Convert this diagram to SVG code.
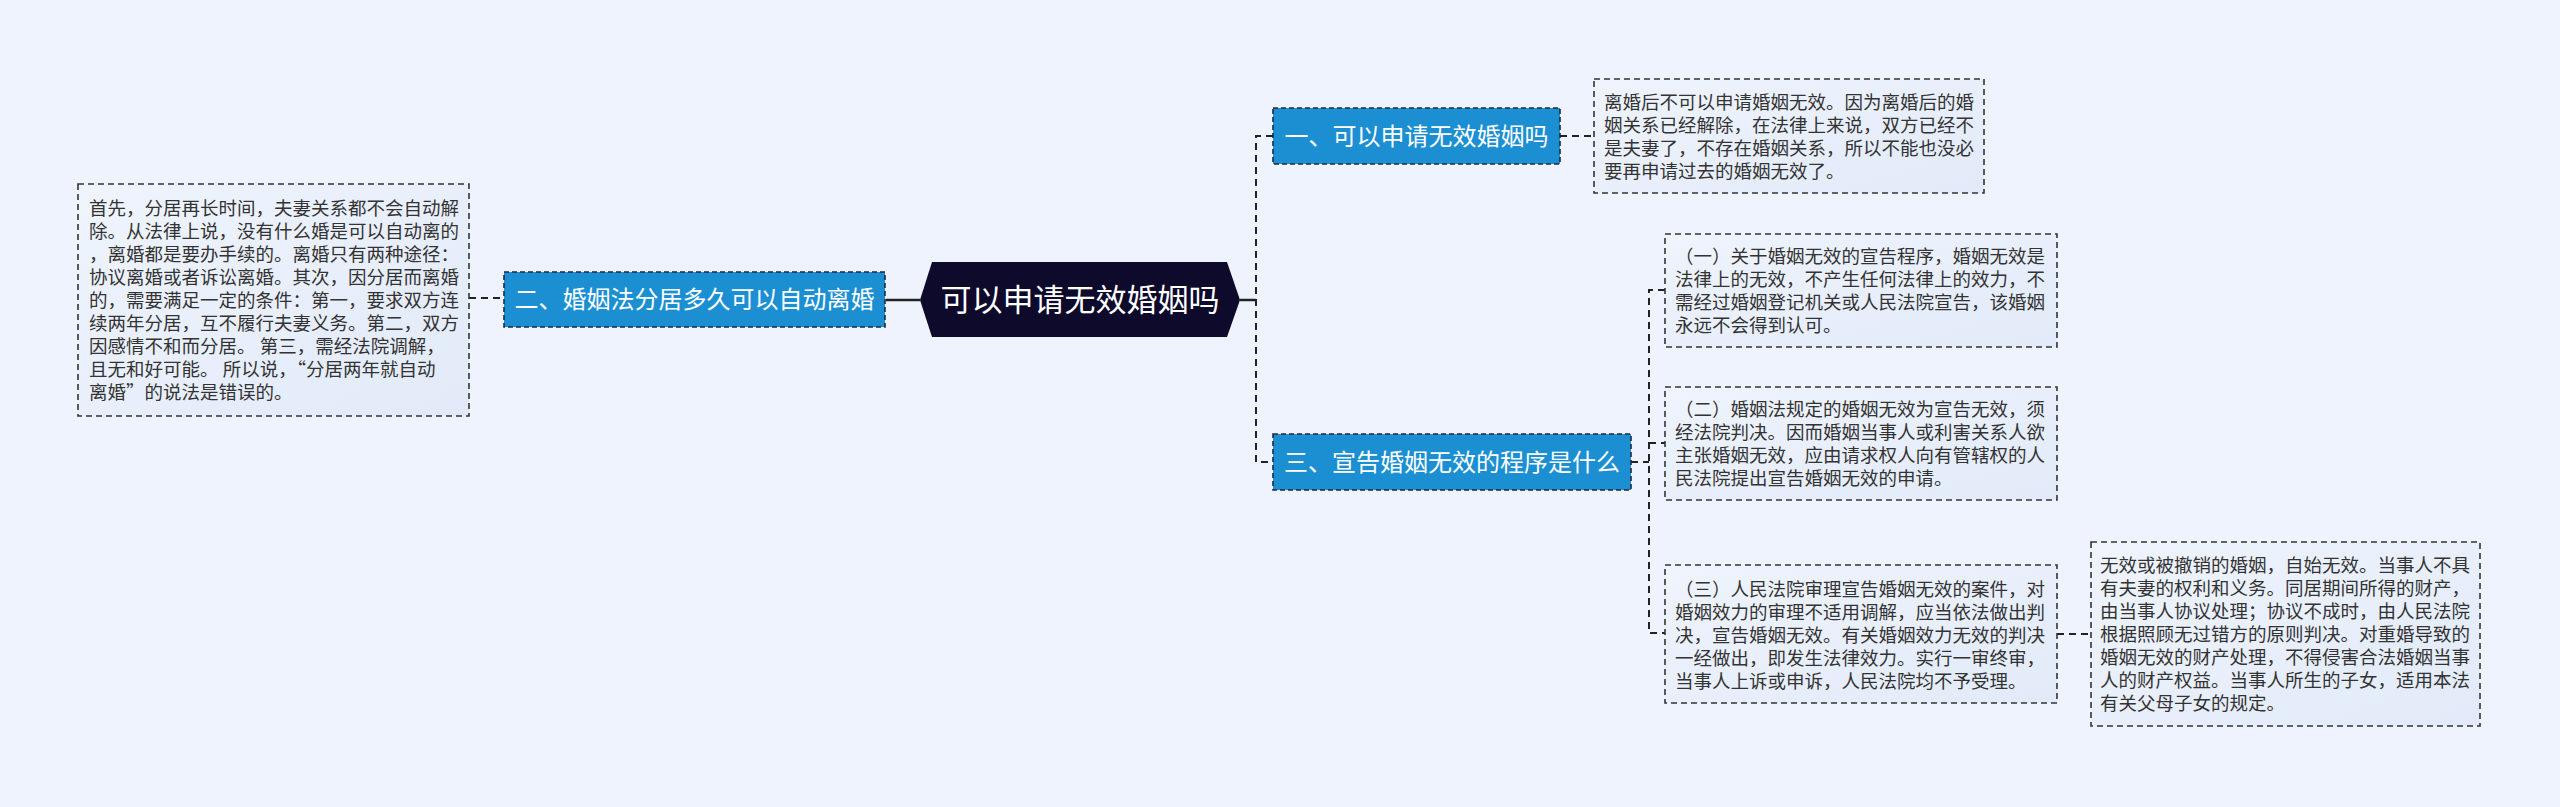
<svg xmlns="http://www.w3.org/2000/svg" width="2560" height="807" viewBox="0 0 2560 807">
<defs>
<linearGradient id="boxg" x1="0" y1="0" x2="1" y2="1">
<stop offset="0" stop-color="#eff4fd"/>
<stop offset="1" stop-color="#e2eaf9"/>
</linearGradient>
<style>
.tb{fill:url(#boxg);stroke:#333;stroke-width:1.6;stroke-dasharray:6 4}
.nd{fill:#1b8fd2;stroke:#1c2a44;stroke-width:1.6;stroke-dasharray:5 3}
.tt{font-family:"Noto Sans CJK SC","Liberation Sans",sans-serif;font-size:18.5px;fill:#333}
.nt{font-family:"Noto Sans CJK SC","Liberation Sans",sans-serif;font-size:24px;fill:#fff;text-anchor:middle}
.ct{font-family:"Noto Sans CJK SC","Liberation Sans",sans-serif;font-size:31px;fill:#fff;text-anchor:middle}
.dc{fill:none;stroke:#222;stroke-width:2;stroke-dasharray:7 5}
.sc{fill:none;stroke:#222;stroke-width:2.5}
</style>
</defs>
<rect width="2560" height="807" fill="#eef3fd"/>
<g id="connectors">
<line class="dc" x1="469" y1="298" x2="504" y2="298"/>
<line class="sc" x1="886" y1="300" x2="920" y2="300"/>
<line class="sc" x1="1240" y1="300" x2="1256" y2="300"/>
<path class="dc" d="M1273 136 H1256 V462 H1273"/>
<line class="dc" x1="1560" y1="136" x2="1594" y2="136"/>
<line class="dc" x1="1631" y1="462" x2="1649" y2="462"/>
<path class="dc" d="M1665 290 H1649 V633 H1665"/>
<line class="dc" x1="1649" y1="443" x2="1665" y2="443"/>
<line class="dc" x1="2057" y1="634" x2="2091" y2="634"/>
</g>
<g id="central">
<polygon points="920,300 932,262 1227,262 1240,300 1227,337 932,337" fill="#0d0a2c"/>
<text class="ct" x="1080" y="311">可以申请无效婚姻吗</text>
</g>
<g id="node-1">
<rect class="nd" x="1273" y="108" width="287" height="56"/>
<text class="nt" x="1416.5" y="144.5">一、可以申请无效婚姻吗</text>
</g>
<g id="node-2">
<rect class="nd" x="504" y="272" width="381" height="55"/>
<text class="nt" x="694.5" y="308">二、婚姻法分居多久可以自动离婚</text>
</g>
<g id="node-3">
<rect class="nd" x="1273" y="434" width="358" height="56"/>
<text class="nt" x="1452" y="470.5">三、宣告婚姻无效的程序是什么</text>
</g>
<g id="text-left">
<rect class="tb" x="78" y="184" width="391" height="232"/>
<text class="tt">
<tspan x="89" y="214.5">首先，分居再长时间，夫妻关系都不会自动解</tspan>
<tspan x="89" y="237.5">除。从法律上说，没有什么婚是可以自动离的</tspan>
<tspan x="89" y="260.5">，离婚都是要办手续的。离婚只有两种途径：</tspan>
<tspan x="89" y="283.5">协议离婚或者诉讼离婚。其次，因分居而离婚</tspan>
<tspan x="89" y="306.5">的，需要满足一定的条件：第一，要求双方连</tspan>
<tspan x="89" y="329.5">续两年分居，互不履行夫妻义务。第二，双方</tspan>
<tspan x="89" y="352.5">因感情不和而分居。 第三，需经法院调解，</tspan>
<tspan x="89" y="375.5">且无和好可能。 所以说，“分居两年就自动</tspan>
<tspan x="89" y="398.5">离婚”的说法是错误的。</tspan>
</text>
</g>
<g id="text-1">
<rect class="tb" x="1594" y="79" width="390" height="114"/>
<text class="tt">
<tspan x="1604" y="109">离婚后不可以申请婚姻无效。因为离婚后的婚</tspan>
<tspan x="1604" y="132">姻关系已经解除，在法律上来说，双方已经不</tspan>
<tspan x="1604" y="155">是夫妻了，不存在婚姻关系，所以不能也没必</tspan>
<tspan x="1604" y="178">要再申请过去的婚姻无效了。</tspan>
</text>
</g>
<g id="text-3a">
<rect class="tb" x="1665" y="234" width="392" height="113"/>
<text class="tt">
<tspan x="1675" y="263">（一）关于婚姻无效的宣告程序，婚姻无效是</tspan>
<tspan x="1675" y="286">法律上的无效，不产生任何法律上的效力，不</tspan>
<tspan x="1675" y="309">需经过婚姻登记机关或人民法院宣告，该婚姻</tspan>
<tspan x="1675" y="332">永远不会得到认可。</tspan>
</text>
</g>
<g id="text-3b">
<rect class="tb" x="1665" y="387" width="392" height="113"/>
<text class="tt">
<tspan x="1675" y="416">（二）婚姻法规定的婚姻无效为宣告无效，须</tspan>
<tspan x="1675" y="439">经法院判决。因而婚姻当事人或利害关系人欲</tspan>
<tspan x="1675" y="462">主张婚姻无效，应由请求权人向有管辖权的人</tspan>
<tspan x="1675" y="485">民法院提出宣告婚姻无效的申请。</tspan>
</text>
</g>
<g id="text-3c">
<rect class="tb" x="1665" y="565" width="392" height="138"/>
<text class="tt">
<tspan x="1675" y="595.5">（三）人民法院审理宣告婚姻无效的案件，对</tspan>
<tspan x="1675" y="618.5">婚姻效力的审理不适用调解，应当依法做出判</tspan>
<tspan x="1675" y="641.5">决，宣告婚姻无效。有关婚姻效力无效的判决</tspan>
<tspan x="1675" y="664.5">一经做出，即发生法律效力。实行一审终审，</tspan>
<tspan x="1675" y="687.5">当事人上诉或申诉，人民法院均不予受理。</tspan>
</text>
</g>
<g id="text-3c-detail">
<rect class="tb" x="2091" y="542" width="389" height="184"/>
<text class="tt">
<tspan x="2100" y="572">无效或被撤销的婚姻，自始无效。当事人不具</tspan>
<tspan x="2100" y="595">有夫妻的权利和义务。同居期间所得的财产，</tspan>
<tspan x="2100" y="618">由当事人协议处理；协议不成时，由人民法院</tspan>
<tspan x="2100" y="641">根据照顾无过错方的原则判决。对重婚导致的</tspan>
<tspan x="2100" y="664">婚姻无效的财产处理，不得侵害合法婚姻当事</tspan>
<tspan x="2100" y="687">人的财产权益。当事人所生的子女，适用本法</tspan>
<tspan x="2100" y="710">有关父母子女的规定。</tspan>
</text>
</g>
</svg>
